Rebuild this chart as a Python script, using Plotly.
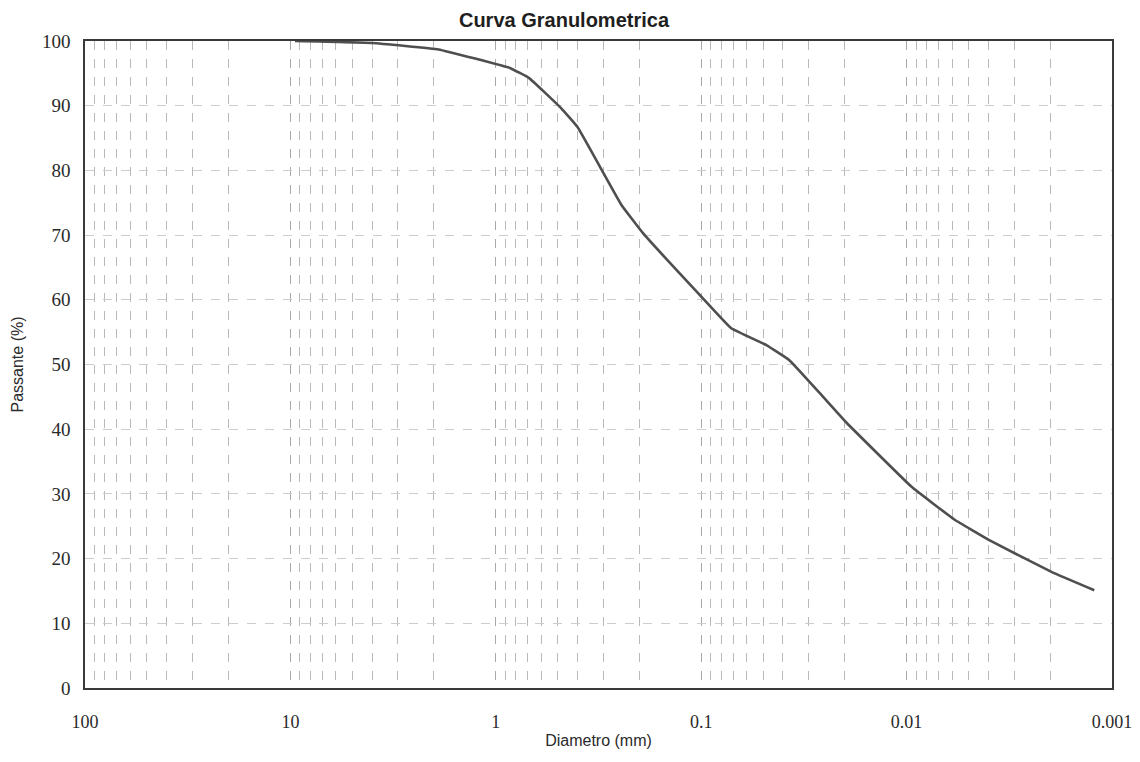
import plotly.graph_objects as go

diametro_mm = [9.5, 4.0, 1.9, 0.85, 0.69, 0.58, 0.48, 0.40, 0.245, 0.192,
               0.0966, 0.0714, 0.0482, 0.0373, 0.026, 0.0196, 0.00946, 0.00583,
               0.00398, 0.00196, 0.00122]
passante_pct = [100, 99.7, 98.7, 95.8, 94.3, 92.1, 89.6, 86.7, 74.7, 70.3,
                60.0, 55.6, 53.0, 50.7, 45.3, 41.0, 31.1, 26.0, 22.9, 17.9, 15.1]

x_tickvals = [100, 10, 1, 0.1, 0.01, 0.001]
x_ticktext = ["100", "10", "1", "0.1", "0.01", "0.001"]
x_minor_vals = [m * 10.0 ** e for e in range(-3, 2) for m in range(2, 10)]
y_tickvals = [0, 10, 20, 30, 40, 50, 60, 70, 80, 90, 100]

fig = go.Figure()
fig.add_trace(go.Scatter(
    x=diametro_mm, y=passante_pct, mode="lines",
    line=dict(color="#4f4f4f", width=2.6, shape="spline", smoothing=0.25),
    showlegend=False, hoverinfo="skip",
))

fig.update_layout(
    width=1140, height=762,
    margin=dict(l=85, r=28, t=41, b=74, autoexpand=False),
    paper_bgcolor="white", plot_bgcolor="white",
    title=dict(text="<b>Curva Granulometrica</b>", x=564 / 1140, xanchor="center",
               xref="container", yref="container",
               y=1 - 20 / 762, yanchor="middle",
               font=dict(family="Liberation Sans, Arial", size=20, color="#1e1e1e")),
)

fig.update_xaxes(
    type="log", range=[2, -3], automargin=False,
    tickvals=x_tickvals, ticktext=x_ticktext,
    ticks="outside", ticklen=17, tickcolor="rgba(0,0,0,0)",
    ticklabeloverflow="allow",
    tickfont=dict(family="Liberation Serif, Times New Roman", size=18, color="#2a2a2a"),
    title=dict(text="Diametro (mm)", standoff=3,
               font=dict(family="Liberation Sans, Arial", size=16, color="#2a2a2a")),
    showline=True, linecolor="#3a3a3a", linewidth=1.6, mirror=True,
    showgrid=True, gridcolor="#a9a9a9", gridwidth=1, griddash="dash",
    minor=dict(tickvals=x_minor_vals, showgrid=True, gridcolor="#b9b9b9",
               gridwidth=1, griddash="dash", ticks=""),
    zeroline=False,
)
fig.update_yaxes(
    range=[0, 100], tickvals=y_tickvals, automargin=False,
    ticks="outside", ticklen=9, tickcolor="rgba(0,0,0,0)",
    tickfont=dict(family="Liberation Serif, Times New Roman", size=19, color="#2a2a2a"),
    title=dict(text="Passante (%)", standoff=14,
               font=dict(family="Liberation Sans, Arial", size=16, color="#2a2a2a")),
    showline=True, linecolor="#3a3a3a", linewidth=1.6, mirror=True,
    showgrid=True, gridcolor="#cdcdcd", gridwidth=1, griddash="dash",
    zeroline=False,
)

fig.write_html(
    "out.html",
    config={"displayModeBar": False},
    post_script="document.body.style.margin='0';document.body.style.overflow='hidden';",
)
